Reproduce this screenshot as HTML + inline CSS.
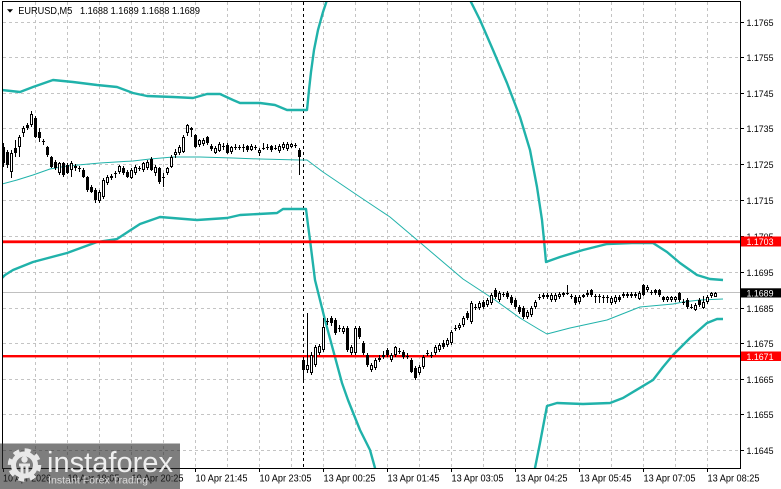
<!DOCTYPE html>
<html><head><meta charset="utf-8">
<style>
html,body{margin:0;padding:0;background:#fff;width:781px;height:489px;overflow:hidden;}
svg{display:block;}
text{font-family:"Liberation Sans",Arial,sans-serif;}
</style></head><body>
<svg id="chart" width="781" height="489" viewBox="0 0 781 489" xmlns="http://www.w3.org/2000/svg">
<defs><clipPath id="pa"><rect x="3" y="2" width="737" height="466"/></clipPath></defs>
<rect width="781" height="489" fill="#fff"/>

<!-- grid -->
<g stroke="#c4c4c4" stroke-width="1" stroke-dasharray="3,3" fill="none">
<path d="M3 22.5H740M3 57.5H740M3 93.5H740M3 128.5H740M3 164.5H740M3 200.5H740M3 236.5H740M3 272.5H740M3 308.5H740M3 343.5H740M3 379.5H740M3 414.5H740M3 450.5H740"/>
<path d="M35.5 2V468M67.5 2V468M99.5 2V468M131.5 2V468M163.5 2V468M195.5 2V468M227.5 2V468M259.5 2V468M291.5 2V468M323.5 2V468M355.5 2V468M387.5 2V468M419.5 2V468M451.5 2V468M483.5 2V468M515.5 2V468M547.5 2V468M579.5 2V468M611.5 2V468M643.5 2V468M675.5 2V468M707.5 2V468"/>
</g>

<!-- period separator -->
<path d="M303.5 2V468" stroke="#000" stroke-width="1" stroke-dasharray="3,3"/>

<!-- current price line -->
<path d="M3 292.5H740" stroke="#c0c0c0" stroke-width="1"/>

<!-- bands -->
<g clip-path="url(#pa)" fill="none" stroke="#20b2aa" stroke-linejoin="round">
<polyline stroke-width="2.4" points="2,90 20,92 33,87 53,80 73,82 97,85 117,87 133,93 147,96 173,97 193,98 207,94 220,94 233,100 240,103 260,103 275,105 287,110 307,110 309,90 311,72 314,50 318,30 323,12 327,0 329,-6"/>
<polyline stroke-width="2.4" points="468,-6 470,0 480,20 493,50 507,83 520,117 530,150 537,187 542,220 544,240 546,262 560,257 583,250 607,244 632,243 653,243 667,252 680,263 697,275 710,279 723,280"/>
<polyline stroke-width="1" points="2,184 17,180 33,175 50,169 67,166 100,163 133,161 150,159 173,157 200,157 233,158 260,159 300,160 307,160 323,172 357,195 390,217 423,245 463,279 495,300 520,318 540,330 547,334 570,328 607,320 640,307 673,304 683,302 700,300 723,299"/>
<polyline stroke-width="2.4" points="2,278 5,275 13,270 33,262 67,253 97,242 117,239 140,224 160,217 197,220 227,218 240,215 277,213 283,209 306,209 308,225 310,240 315,280 325,320 342,383 348,400 360,430 370,450 375,468 378,476"/>
<polyline stroke-width="2.4" points="533,476 535,468 540,443 547,406 557,403 583,404 610,403 623,398 653,380 663,367 673,355 690,338 707,323 717,319 723,319"/>
</g>

<!-- red levels -->
<rect x="3" y="240.4" width="737" height="2.8" fill="#ff0000"/>
<rect x="3" y="355" width="737" height="2.4" fill="#ff0000"/>

<!-- candles -->
<g id="cd" clip-path="url(#pa)"></g>

<!-- frame -->
<path d="M2.5 1.5H740.5V468.5H2.5Z" fill="none" stroke="#000" stroke-width="1"/>

<!-- right axis ticks -->
<path d="M740 22.5h4M740 57.5h4M740 93.5h4M740 128.5h4M740 164.5h4M740 200.5h4M740 236.5h4M740 272.5h4M740 308.5h4M740 343.5h4M740 379.5h4M740 414.5h4M740 450.5h4" stroke="#000" stroke-width="1"/>
<g font-size="9.5" fill="#000">
<text x="746.5" y="25.8" textLength="27" lengthAdjust="spacingAndGlyphs">1.1765</text>
<text x="746.5" y="60.8" textLength="27" lengthAdjust="spacingAndGlyphs">1.1755</text>
<text x="746.5" y="96.8" textLength="27" lengthAdjust="spacingAndGlyphs">1.1745</text>
<text x="746.5" y="131.8" textLength="27" lengthAdjust="spacingAndGlyphs">1.1735</text>
<text x="746.5" y="167.8" textLength="27" lengthAdjust="spacingAndGlyphs">1.1725</text>
<text x="746.5" y="203.8" textLength="27" lengthAdjust="spacingAndGlyphs">1.1715</text>
<text x="746.5" y="239.8" textLength="27" lengthAdjust="spacingAndGlyphs">1.1705</text>
<text x="746.5" y="275.8" textLength="27" lengthAdjust="spacingAndGlyphs">1.1695</text>
<text x="746.5" y="311.8" textLength="27" lengthAdjust="spacingAndGlyphs">1.1685</text>
<text x="746.5" y="346.8" textLength="27" lengthAdjust="spacingAndGlyphs">1.1675</text>
<text x="746.5" y="382.8" textLength="27" lengthAdjust="spacingAndGlyphs">1.1665</text>
<text x="746.5" y="417.8" textLength="27" lengthAdjust="spacingAndGlyphs">1.1655</text>
<text x="746.5" y="453.8" textLength="27" lengthAdjust="spacingAndGlyphs">1.1645</text>
</g>
<!-- highlighted labels -->
<rect x="741" y="236.5" width="40" height="10" fill="#ff0000"/>
<text x="746.5" y="245.2" font-size="9.5" fill="#fff" textLength="27" lengthAdjust="spacingAndGlyphs">1.1703</text>
<rect x="741" y="288.3" width="40" height="9.2" fill="#000"/>
<text x="746.5" y="296.3" font-size="9.5" fill="#fff" textLength="27" lengthAdjust="spacingAndGlyphs">1.1689</text>
<rect x="741" y="351.5" width="40" height="9.5" fill="#ff0000"/>
<text x="746.5" y="359.8" font-size="9.5" fill="#fff" textLength="27" lengthAdjust="spacingAndGlyphs">1.1671</text>

<!-- bottom axis -->
<path d="M3.5 468v4M67.5 468v4M131.5 468v4M195.5 468v4M259.5 468v4M323.5 468v4M387.5 468v4M451.5 468v4M515.5 468v4M579.5 468v4M643.5 468v4M707.5 468v4" stroke="#000" stroke-width="1"/>
<g font-size="10" fill="#000">
<text x="3" y="481.5" textLength="48" lengthAdjust="spacingAndGlyphs">10 Apr 2026</text>
<text x="67.5" y="481.5" textLength="52" lengthAdjust="spacingAndGlyphs">10 Apr 19:05</text>
<text x="131.5" y="481.5" textLength="52" lengthAdjust="spacingAndGlyphs">10 Apr 20:25</text>
<text x="195.5" y="481.5" textLength="52" lengthAdjust="spacingAndGlyphs">10 Apr 21:45</text>
<text x="259.5" y="481.5" textLength="52" lengthAdjust="spacingAndGlyphs">10 Apr 23:05</text>
<text x="323.5" y="481.5" textLength="52" lengthAdjust="spacingAndGlyphs">13 Apr 00:25</text>
<text x="387.5" y="481.5" textLength="52" lengthAdjust="spacingAndGlyphs">13 Apr 01:45</text>
<text x="451.5" y="481.5" textLength="52" lengthAdjust="spacingAndGlyphs">13 Apr 03:05</text>
<text x="515.5" y="481.5" textLength="52" lengthAdjust="spacingAndGlyphs">13 Apr 04:25</text>
<text x="579.5" y="481.5" textLength="52" lengthAdjust="spacingAndGlyphs">13 Apr 05:45</text>
<text x="643.5" y="481.5" textLength="52" lengthAdjust="spacingAndGlyphs">13 Apr 07:05</text>
<text x="707.5" y="481.5" textLength="52" lengthAdjust="spacingAndGlyphs">13 Apr 08:25</text>
</g>

<!-- title -->
<polygon points="7,9.3 13,9.3 10,12.6" fill="#000"/>
<text x="18.3" y="14" font-size="10" fill="#000" textLength="54" lengthAdjust="spacingAndGlyphs">EURUSD,M5</text>
<text x="80" y="14" font-size="10" fill="#000" textLength="120" lengthAdjust="spacingAndGlyphs">1.1688 1.1689 1.1688 1.1689</text>

<!-- logo -->
<rect x="0" y="443.5" width="180" height="45.5" fill="rgb(40,40,40)" opacity="0.6"/>
<g fill="none" stroke="#e8e8e8">
<circle cx="24.5" cy="465" r="14.5" stroke-width="4.5" stroke-dasharray="6,5.4"/>
<circle cx="24.5" cy="465" r="11" stroke-width="5"/>
</g>
<g fill="#e8e8e8">
<circle cx="24.5" cy="459.5" r="3.2"/>
<rect x="19" y="463.5" width="11" height="3"/>
<rect x="20.5" y="466" width="3" height="9"/>
<rect x="25.5" y="466" width="3" height="9"/>
</g>
<text x="47" y="472" font-size="29" fill="#efefef" textLength="126" lengthAdjust="spacingAndGlyphs">instaforex</text>
<text x="48" y="483.5" font-size="10.5" fill="#dadada" textLength="100" lengthAdjust="spacingAndGlyphs">Instant Forex Trading</text>
</svg>
<script>
(function(){
var D=[
[147,163,143,167],[152,165,150,168],[172,153,150,178],[148,153,140,157],[147,137,135,157],
[133,128,126,137],[125,128,123,130],[125,114,111,127],[118,137,116,138],[132,138,128,142],
[141,142,139,145],[147,155,146,157],[157,167,156,168],[162,168,160,170],[173,163,162,175],
[163,175,162,177],[165,173,163,174],[170,163,161,177],[166,168,164,171],[168,169,166,172],
[170,177,168,178],[177,190,176,192],[187,192,185,193],[190,200,188,203],[201,192,190,203],
[197,180,178,199],[183,177,175,185],[176,178,174,180],[174,173,171,178],[172,166,165,174],
[168,173,166,175],[172,177,170,178],[178,170,168,179],[173,167,165,175],[168,169,166,171],
[170,163,162,172],[168,162,160,170],[159,170,157,171],[173,167,165,176],[168,182,167,184],
[178,177,173,187],[173,168,167,175],[167,157,155,168],[155,152,149,158],[153,147,145,155],
[152,137,135,153],[133,125,124,136],[130,128,127,137],[135,147,134,148],[145,140,139,147],
[144,140,138,146],[137,143,136,145],[146,149,144,151],[153,148,146,154],[151,144,142,152],
[146,146,143,150],[145,153,143,154],[152,147,146,154],[147,147,144,150],[147,148,145,150],
[147,148,144,152],[146,150,145,152],[150,146,144,151],[147,148,145,150],[153,150,148,156],
[148,148,143,150],[147,147,144,150],[146,150,145,152],[148,148,145,150],[151,146,144,153],
[148,144,142,150],[149,144,142,151],[147,144,143,148],[145,146,143,148],[150,157,148,175],
[360,370,357,380],[370,365,313,373],[373,355,352,375],[365,347,345,367],[353,346,344,355],
[350,327,318,352],[322,321,318,325],[318,323,316,326],[320,333,318,335],[328,329,325,332],
[332,328,326,334],[328,350,326,352],[353,347,345,355],[353,328,326,355],[328,337,326,339],
[343,353,341,355],[355,365,353,367],[370,365,363,372],[368,360,358,370],[360,358,355,362],
[357,355,351,359],[350,355,348,357],[360,355,353,362],[355,347,346,357],[351,351,348,354],
[352,357,350,359],[356,356,353,359],[360,372,358,373],[368,378,366,380],[373,367,365,375],
[367,357,355,369],[353,353,350,356],[356,355,352,358],[353,347,345,355],[350,345,343,352],
[343,347,340,349],[345,340,338,347],[343,332,330,345],[328,328,325,331],[328,325,323,330],
[325,318,316,327],[313,318,311,320],[322,303,301,324],[307,307,304,310],[308,303,301,310],
[302,307,300,309],[305,300,298,307],[303,295,293,305],[290,297,288,299],[300,293,291,302],
[294,294,292,297],[293,297,291,299],[297,303,295,305],[300,307,298,309],[307,312,305,314],
[308,317,306,319],[317,312,310,319],[315,308,306,317],[307,302,300,309],[297,297,294,300],
[297,295,293,299],[295,297,293,299],[300,295,293,302],[300,295,293,302],[297,294,292,299],
[293,295,292,297],[293,293,285,295],[296,296,294,299],[297,303,295,305],[302,297,295,304],
[297,295,294,298],[293,295,290,297],[290,295,289,297],[296,296,294,303],[296,296,294,303],
[297,297,295,303],[297,297,295,303],[303,298,296,305],[302,297,295,304],[297,300,295,302],
[296,294,292,298],[296,294,292,298],[296,294,292,298],[294,296,292,298],[299,293,291,300],
[285,295,284,296],[290,287,285,292],[292,292,290,295],[290,293,289,295],[290,295,289,297],
[297,300,296,302],[300,297,296,302],[300,297,296,302],[300,297,296,302],[293,300,292,302],
[302,302,299,305],[300,307,298,309],[307,307,304,309],[310,305,303,311],[300,305,298,307],
[308,302,296,309],[302,297,295,304],[296,293,292,298],[297,293,292,297]
];
var NS="http://www.w3.org/2000/svg",g=document.getElementById("cd");
function el(n,a){var e=document.createElementNS(NS,n);for(var k in a)e.setAttribute(k,a[k]);g.appendChild(e);}
for(var i=0;i<D.length;i++){
 var d=D[i],cx=3+4*i,o=d[0],c=d[1],h=d[2],l=d[3];
 var t=Math.min(o,c),b=Math.max(o,c);
 el("rect",{x:cx,y:h,width:1,height:Math.max(1,l-h),fill:"#000"});
 if(b-t<1.5){el("rect",{x:cx-1,y:t,width:3,height:1,fill:"#000"});}
 else if(c<o){el("rect",{x:cx-0.5,y:t+0.5,width:2,height:b-t-1,fill:"#fff",stroke:"#000","stroke-width":1});}
 else{el("rect",{x:cx-1,y:t,width:3,height:b-t,fill:"#000"});}
}
})();
</script>
</body></html>
